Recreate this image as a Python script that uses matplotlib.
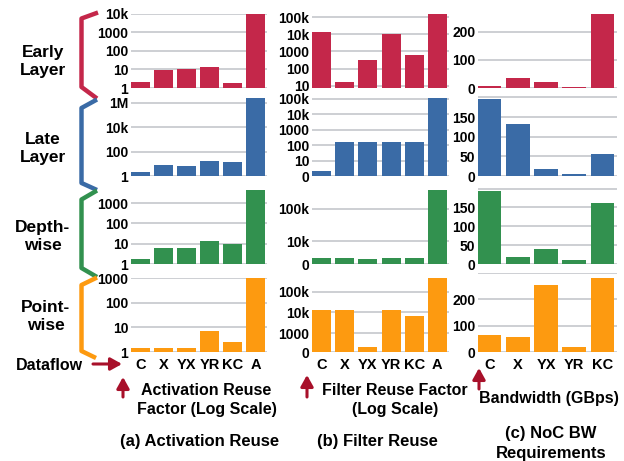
import matplotlib
matplotlib.use("Agg")
import matplotlib.pyplot as plt

# ---------------- data ----------------
cats_ab = ['C', 'X', 'YX', 'YR', 'KC', 'A']
cats_c = ['C', 'X', 'YX', 'YR', 'KC']
row_names = ['Early\nLayer', 'Late\nLayer', 'Depth-\nwise', 'Point-\nwise']

act_early = [2, 9, 11, 14, 1.8, 10000]
act_late = [2, 8, 7, 17, 14, 2.4e6]
act_depth = [1.8, 6.5, 6, 14, 10, 4500]
act_point = [1.5, 1.5, 1.5, 7, 2.5, 1000]

filt_early = [13000, 17, 330, 10000, 650, 150000]
filt_late = [2.2, 160, 160, 160, 160, 110000]
filt_depth = [3000, 3000, 2800, 3000, 3000, 380000]
filt_point = [13000, 13000, 225, 13000, 6700, 450000]

bw_early = [6, 35, 21, 5, 262]
bw_late = [197, 131, 17, 4, 55]
bw_depth = [194, 19, 41, 11, 163]
bw_point = [65, 57, 255, 19, 281]

# tick values / labels
act_ticks = [[1, 10, 100, 1000, 10000], [1, 100, 1e4, 1e6], [1, 10, 100, 1000], [1, 10, 100, 1000]]
act_tlabels = [['1', '10', '100', '1000', '10k'], ['1', '100', '10k', '1M'],
               ['1', '10', '100', '1000'], ['1', '10', '100', '1000']]
filt_ticks = [[10, 100, 1000, 1e4, 1e5], [1, 10, 100, 1000, 1e4, 1e5], [2000, 1e4, 1e5], [125, 1000, 1e4, 1e5]]
filt_tlabels = [['10', '100', '1000', '10k', '100k'], ['0', '10', '100', '1000', '10k', '100k'],
                ['0', '10k', '100k'], ['0', '1000', '10k', '100k']]
bw_ticks = [[0, 100, 200], [0, 50, 100, 150, 200], [0, 50, 100, 150, 200], [0, 100, 200, 300]]
bw_tlabels = [['0', '100', '200'], ['0', '50', '100', '150', ''], ['0', '50', '100', '150', ''],
              ['0', '100', '200', '']]

# ---------------- style ----------------
W, H = 624, 461
plt.rcParams['font.family'] = ['Liberation Sans', 'DejaVu Sans']
plt.rcParams['font.weight'] = 'bold'
colors = ['#c4274a', '#3a6ba6', '#32914f', '#fd9a10']
grid_c = '#c9cbd0'
arrow_c = '#a8102a'

fig = plt.figure(figsize=(W / 100, H / 100), dpi=100)


def rect(l, t, r, b):
    return [l / W, 1 - b / H, (r - l) / W, (b - t) / H]


rows_y = [(14, 88), (98, 176), (190, 264), (278, 352)]
col_c_rows = [(14, 88), (95, 176), (186, 264), (273, 352)]

act_data = [act_early, act_late, act_depth, act_point]
filt_data = [filt_early, filt_late, filt_depth, filt_point]
bw_data = [bw_early, bw_late, bw_depth, bw_point]
act_lims = [(1, 1e4), (1, 2.4e6), (1, 4500), (1, 1000)]
filt_lims = [(7.5, 150000), (1, 110000), (2000, 380000), (125, 450000)]
bw_lims = [(0, 262), (0, 206), (0, 207), (0, 300)]


def style(ax, cats, show_x):
    for s in ax.spines.values():
        s.set_visible(False)
    ax.set_axisbelow(True)
    ax.yaxis.grid(True, color=grid_c, lw=1.3)
    ax.xaxis.grid(False)
    ax.tick_params(axis='both', length=0, labelsize=10, pad=2)
    ax.set_xticks(range(len(cats)))
    if show_x:
        ax.set_xticklabels(cats, fontsize=10.5, fontweight='bold')
        ax.tick_params(axis='x', pad=4)
    else:
        ax.set_xticklabels([])


for i in range(4):
    t, b = rows_y[i]
    # (a) activation reuse
    ax = fig.add_axes(rect(131, t, 267, b))
    ax.bar(range(6), act_data[i], width=0.82, color=colors[i])
    ax.set_yscale('log')
    ax.set_ylim(*act_lims[i])
    ax.set_xlim(-0.41, 5.5)
    ax.set_yticks(act_ticks[i])
    ax.set_yticklabels(act_tlabels[i], fontweight='bold')
    ax.minorticks_off()
    style(ax, cats_ab, i == 3)

    # (b) filter reuse
    ax = fig.add_axes(rect(312, t, 449, b))
    ax.bar(range(6), filt_data[i], width=0.82, color=colors[i])
    ax.set_yscale('log')
    ax.set_ylim(*filt_lims[i])
    ax.set_xlim(-0.41, 5.5)
    ax.set_yticks(filt_ticks[i])
    ax.set_yticklabels(filt_tlabels[i], fontweight='bold')
    ax.minorticks_off()
    style(ax, cats_ab, i == 3)

    # (c) bandwidth
    tc, bc = col_c_rows[i]
    ax = fig.add_axes(rect(478, tc, 617, bc))
    ax.bar(range(5), bw_data[i], width=0.83, color=colors[i])
    ax.set_ylim(*bw_lims[i])
    ax.set_xlim(-0.415, 4.52)
    ax.set_yticks(bw_ticks[i])
    ax.set_yticklabels(bw_tlabels[i], fontweight='bold')
    style(ax, cats_c, i == 3)

# ---------------- overlay: braces, labels, arrows ----------------
ov = fig.add_axes([0, 0, 1, 1], zorder=-1)
ov.set_xlim(0, W)
ov.set_ylim(H, 0)
ov.axis('off')

braces = [
    [(98, 12.5), (81.5, 18.5), (81.5, 87), (97, 98.5)],
    [(97, 99.5), (81.5, 108), (81.5, 183), (97, 190)],
    [(97, 190.5), (81.5, 199.5), (81.5, 268), (97, 277)],
    [(97, 277.5), (81.5, 285), (81.5, 351), (96, 358)],
]
for pts, c in zip(braces, colors):
    xs, ys = zip(*pts)
    ov.plot(xs, ys, color=c, lw=3.2, solid_joinstyle='round', solid_capstyle='butt')

label_pos = [(43, 62), (43, 148.5), (43, 236), (46, 316)]
for (x, y), name in zip(label_pos, row_names):
    ov.text(x, y, name, ha='center', va='center', multialignment='center',
            fontsize=12.5, fontweight='bold', linespacing=1.25)

ov.text(49, 365, 'Dataflow', ha='center', va='center', fontsize=11.5, fontweight='bold')

arrow_kw = dict(arrowstyle='-|>,head_length=0.45,head_width=0.25', color=arrow_c,
                lw=2.2, mutation_scale=15, shrinkA=0, shrinkB=0)
ov.annotate('', xy=(122, 364), xytext=(93, 364), arrowprops=arrow_kw)
ov.annotate('', xy=(123, 377), xytext=(123, 397), arrowprops=arrow_kw)
ov.annotate('', xy=(307, 375), xytext=(307, 397), arrowprops=arrow_kw)
ov.annotate('', xy=(479, 368), xytext=(479, 389), arrowprops=arrow_kw)

ov.text(206.5, 400, 'Activation Reuse\nFactor (Log Scale)', ha='center', va='center',
        multialignment='center', fontsize=11.5, fontweight='bold', linespacing=1.3)
ov.text(395, 400, 'Filter Reuse Factor\n(Log Scale)', ha='center', va='center',
        multialignment='center', fontsize=11.5, fontweight='bold', linespacing=1.3)
ov.text(549, 398, 'Bandwidth (GBps)', ha='center', va='center', fontsize=11.5, fontweight='bold')

ov.text(200, 441, '(a) Activation Reuse', ha='center', va='center', fontsize=12, fontweight='bold')
ov.text(377, 441, '(b) Filter Reuse', ha='center', va='center', fontsize=12, fontweight='bold')
ov.text(551, 443.5, '(c) NoC BW\nRequirements', ha='center', va='center',
        multialignment='center', fontsize=12, fontweight='bold', linespacing=1.35)

fig.savefig('out.png', dpi=100)
